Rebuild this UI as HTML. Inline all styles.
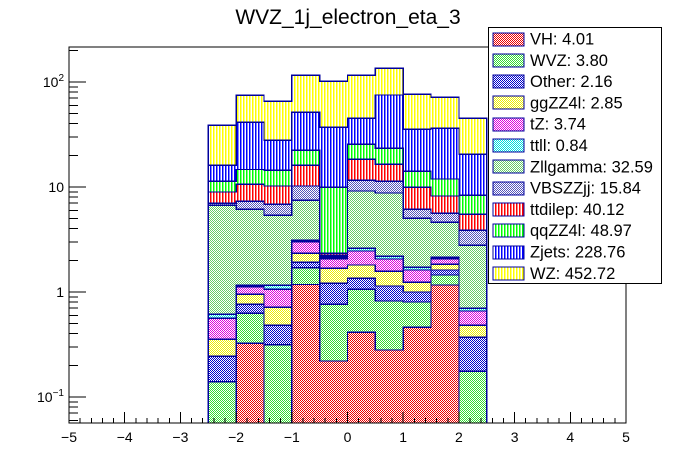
<!DOCTYPE html>
<html><head><meta charset="utf-8"><style>
html,body{margin:0;padding:0;background:#fff;}
svg{display:block;font-family:"Liberation Sans",Arial,sans-serif;}
</style></head><body>
<svg id="chart" width="696" height="472" viewBox="0 0 696 472" xmlns="http://www.w3.org/2000/svg" shape-rendering="crispEdges">
<defs>
<pattern id="p-VH" width="2" height="2" patternUnits="userSpaceOnUse"><rect width="2" height="2" fill="#fff"/><rect width="1" height="1" fill="#e00"/><rect x="1" y="1" width="1" height="1" fill="#e00"/></pattern>
<pattern id="p-WVZ" width="2" height="2" patternUnits="userSpaceOnUse"><rect width="2" height="2" fill="#fff"/><rect width="1" height="1" fill="#3d3"/><rect x="1" y="1" width="1" height="1" fill="#3d3"/></pattern>
<pattern id="p-Other" width="2" height="2" patternUnits="userSpaceOnUse"><rect width="2" height="2" fill="#fff"/><rect width="1" height="1" fill="#00c"/><rect x="1" y="1" width="1" height="1" fill="#00c"/></pattern>
<pattern id="p-gg" width="2" height="2" patternUnits="userSpaceOnUse"><rect width="2" height="2" fill="#fff"/><rect width="1" height="1" fill="#ee0"/><rect x="1" y="1" width="1" height="1" fill="#ee0"/></pattern>
<pattern id="p-tZ" width="2" height="2" patternUnits="userSpaceOnUse"><rect width="2" height="2" fill="#fff"/><rect width="1" height="1" fill="#d0d"/><rect x="1" y="1" width="1" height="1" fill="#d0d"/></pattern>
<pattern id="p-ttll" width="2" height="2" patternUnits="userSpaceOnUse"><rect width="2" height="2" fill="#fff"/><rect width="1" height="1" fill="#0dd"/><rect x="1" y="1" width="1" height="1" fill="#0dd"/></pattern>
<pattern id="p-Zllg" width="2" height="2" patternUnits="userSpaceOnUse"><rect width="2" height="2" fill="#fff"/><rect width="1" height="1" fill="#6c6"/><rect x="1" y="1" width="1" height="1" fill="#6c6"/></pattern>
<pattern id="p-VBS" width="2" height="2" patternUnits="userSpaceOnUse"><rect width="2" height="2" fill="#fff"/><rect width="1" height="1" fill="#55b"/><rect x="1" y="1" width="1" height="1" fill="#55b"/></pattern>
<pattern id="p-ttd" width="3" height="3" patternUnits="userSpaceOnUse"><rect width="3" height="3" fill="#fff"/><rect width="1.6" height="3" fill="#f00"/></pattern>
<pattern id="p-qq" width="3" height="3" patternUnits="userSpaceOnUse"><rect width="3" height="3" fill="#fff"/><rect width="1.6" height="3" fill="#0f0"/></pattern>
<pattern id="p-Zj" width="3" height="3" patternUnits="userSpaceOnUse"><rect width="3" height="3" fill="#fff"/><rect width="1.6" height="3" fill="#00f"/></pattern>
<pattern id="p-WZ" width="3" height="3" patternUnits="userSpaceOnUse"><rect width="3" height="3" fill="#fff"/><rect width="1.6" height="3" fill="#ff0"/></pattern>
</defs>
<text x="348" y="24" font-size="21" text-anchor="middle" shape-rendering="auto">WVZ_1j_electron_eta_3</text>
<g id="bars"></g>
<rect x="69" y="47" width="557" height="376" fill="none" stroke="#000" stroke-width="1"/>
<g id="axes"></g>
<g id="legend"></g>
</svg>
<script>
// Bin edges (eta)
const binLo = [-2.5,-2,-1.5,-1,-0.5,0,0.5,1,1.5,2];
// Process names (stack order bottom -> top)
const procs = ["VH","WVZ","Other","ggZZ4l","tZ","ttll","Zllgamma","VBSZZjj","ttdilep","qqZZ4l","Zjets","WZ"];
const totals = ["4.01","3.80","2.16","2.85","3.74","0.84","32.59","15.84","40.12","48.97","228.76","452.72"];
// Per-process bin contents
const vVH    = [0.03,0.325,0.03,1.18,0.22,0.413,0.28,0.461,1.166,0.03];
const vWVZ   = [0.11,0.302,0.285,0.52,0.543,0.648,0.541,0.342,0.286,0.146];
const vOther = [0.104,0.136,0.167,0.215,0.447,0.289,0.319,0.197,0.169,0.195];
const vggZZ  = [0.111,0.188,0.233,0.418,0.472,0.457,0.434,0.237,0.214,0.111];
const vtZ    = [0.207,0.172,0.346,0.676,0.393,0.648,0.487,0.384,0.24,0.177];
const vttll  = [0.051,0.035,0.097,0.093,0.055,0.155,0.127,0.098,0.065,0.041];
const vZllg  = [6.09,4.97,4.22,4.36,0.05,6.55,6.58,3.31,2.47,2.09];
const vVBS   = [0.30,1.18,1.46,2.73,0.06,2.44,2.53,1.1,1.01,1.08];
const vttd   = [1.96,3.29,3.36,5.9,0.097,6.8,5.2,3.8,2.59,1.63];
const vqq    = [2.34,4.1,4.2,6.3,7.6,7.1,6.9,4.2,3.7,2.84];
const vZj    = [4.8,26.6,13.5,29,27.1,19.6,51.8,21.4,24.3,12.2];
const vWZ    = [22.6,33.4,37.6,64.4,64.6,70.7,59.8,40.9,35.3,24.6];
const series = [vVH,vWVZ,vOther,vggZZ,vtZ,vttll,vZllg,vVBS,vttd,vqq,vZj,vWZ];
const fills = ["p-VH","p-WVZ","p-Other","p-gg","p-tZ","p-ttll","p-Zllg","p-VBS","p-ttd","p-qq","p-Zj","p-WZ"];
const xTicks = [-5,-4,-3,-2,-1,0,1,2,3,4,5];
const yTickExp = [-1,0,1,2];

const NS="http://www.w3.org/2000/svg";
const X0=69, X1=626, Y0=423, Y1=47;
const xmin=-5,xmax=5, ylmin=-1.248, ylmax=2.333;
const xs = v => X0 + (v-xmin)/(xmax-xmin)*(X1-X0);
const ys = v => { let l=Math.log10(Math.max(v,1e-6)); l=Math.max(ylmin,Math.min(ylmax,l)); return Y0 - (l-ylmin)/(ylmax-ylmin)*(Y0-Y1); };
function mk(tag, attrs, parent){ const e=document.createElementNS(NS,tag); for(const k in attrs) e.setAttribute(k,attrs[k]); parent.appendChild(e); return e; }

const gb=document.getElementById('bars');
const cum=[]; let run=binLo.map(()=>0);
series.forEach(s=>{ run=run.map((r,i)=>r+s[i]); cum.push(run.slice()); });
const bw=0.5;
for(let p=procs.length-1;p>=0;p--){
  const g=mk('g',{},gb);
  
  
  let d='M'+xs(binLo[0])+','+Y0;
  binLo.forEach((lo,i)=>{ const y=ys(cum[p][i]); d+=' L'+xs(lo)+','+y+' L'+xs(lo+bw)+','+y; });
  d+=' L'+xs(binLo[binLo.length-1]+bw)+','+Y0+' Z';
  const path=mk('path',{d:d,fill:'url(#'+fills[p]+')',stroke:'#00009c','stroke-width':1.3},g);
  
  
}

const ga=document.getElementById('axes');
for(let v=-5;v<=5.0001;v+=0.2){
  const r=Math.round(v*10)/10; const major=Math.abs(r-Math.round(r))<1e-6;
  const t=mk('line',{x1:xs(r),x2:xs(r),y1:Y0,y2:Y0-(major?11:5),stroke:'#000','stroke-width':1},ga);
  
  
}
xTicks.forEach(v=>{
  const t=mk('text',{x:xs(v),y:442,'font-size':14,'text-anchor':'middle','shape-rendering':'auto'},ga);
  t.textContent=(v<0?'\u2212'+(-v):String(v));
  
  
});
for(let e=-2;e<=2;e++){
  for(let m=1;m<=9;m++){
    const v=m*Math.pow(10,e); const l=Math.log10(v);
    if(l<ylmin||l>ylmax) continue;
    const y=ys(v);
    const t=mk('line',{x1:X0,x2:X0+(m===1?17:9),y1:y,y2:y,stroke:'#000','stroke-width':1},ga);
    
    
  }
}
yTickExp.forEach(e=>{
  const y=ys(Math.pow(10,e))+5;
  const t=mk('text',{x:64,y:y,'font-size':14,'text-anchor':'end'},ga);
  if(e===0) t.textContent='1';
  else if(e===1) t.textContent='10';
  else { t.textContent='10'; const s=mk('tspan',{'font-size':10,dy:-6},t); s.textContent=(e<0?'\u2212'+(-e):String(e)); }
  
  
});

const gl=document.getElementById('legend');
const lb=mk('rect',{x:488.5,y:27.5,width:173,height:256,fill:'#fff',stroke:'#000','stroke-width':1},gl);


procs.forEach((p,i)=>{
  const cy=38.5+i*21.3;
  const g=mk('g',{},gl);
  
  
  mk('rect',{x:493,y:Math.round(cy-6),width:31,height:13,fill:'url(#'+fills[i]+')',stroke:'#00009c','stroke-width':1},g);
  const t=mk('text',{x:530,y:cy+6,'font-size':16.5},g);
  t.textContent=p+': '+totals[i];
});
</script>
</body></html>
